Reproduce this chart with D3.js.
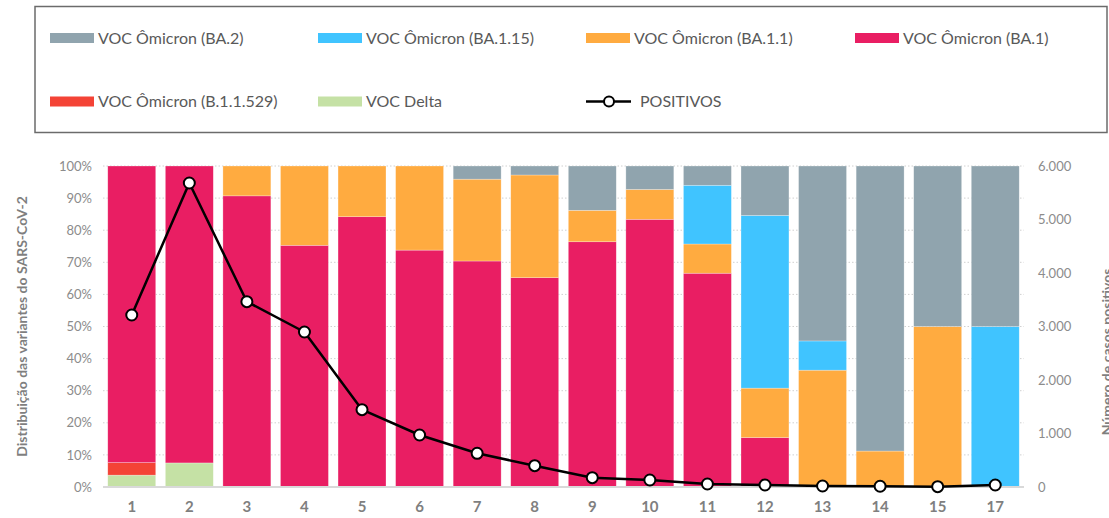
<!DOCTYPE html>
<html>
<head>
<meta charset="utf-8">
<script src="https://cdn.jsdelivr.net/npm/d3@7"></script>
<style>
  html, body { margin: 0; padding: 0; background: #fff; }
  svg { display: block; font-family: Lato, "Open Sans", sans-serif; }
</style>
</head>
<body>
<svg id="chart" width="1109" height="518"></svg>
<script>
// Weeks (16 is absent from the series)
const categories = ["1","2","3","4","5","6","7","8","9","10","11","12","13","14","15","17"];

// Share of each variant per week (%)
const delta   = [3.7, 7.5, 0, 0, 0, 0, 0, 0, 0, 0, 0, 0, 0, 0, 0, 0];
const b11529  = [3.9, 0, 0, 0, 0, 0, 0, 0, 0, 0, 0, 0, 0, 0, 0, 0];
const ba1     = [92.4, 92.5, 90.7, 75.3, 84.2, 73.8, 70.4, 65.2, 76.4, 83.4, 66.6, 15.4, 0, 0, 0, 0];
const ba11    = [0, 0, 9.3, 24.7, 15.8, 26.2, 25.5, 32.0, 9.8, 9.3, 9.1, 15.4, 36.4, 11.2, 50, 0];
const ba115   = [0, 0, 0, 0, 0, 0, 0, 0, 0, 0, 18.3, 53.8, 9.1, 0, 0, 50];
const ba2     = [0, 0, 0, 0, 0, 0, 4.1, 2.8, 13.8, 7.3, 6.0, 15.4, 54.5, 88.8, 50, 50];

// Positive cases per week
const positivos = [3215, 5682, 3464, 2897, 1445, 972, 630, 399, 174, 131, 56, 37, 19, 14, 6, 37];

const leftTicks  = [0, 10, 20, 30, 40, 50, 60, 70, 80, 90, 100];
const rightTicks = [0, 1000, 2000, 3000, 4000, 5000, 6000];

// Series in stacking order (bottom to top)
const series = [
  { key: "delta",  name: "VOC Delta",                 color: "#c5e1a5", values: delta },
  { key: "b11529", name: "VOC Ômicron (B.1.1.529)",   color: "#f44336", values: b11529 },
  { key: "ba1",    name: "VOC Ômicron (BA.1)",        color: "#e91e63", values: ba1 },
  { key: "ba11",   name: "VOC Ômicron (BA.1.1)",      color: "#ffab40", values: ba11 },
  { key: "ba115",  name: "VOC Ômicron (BA.1.15)",     color: "#40c4ff", values: ba115 },
  { key: "ba2",    name: "VOC Ômicron (BA.2)",        color: "#90a4ae", values: ba2 }
];

const rows = categories.map((c, i) => {
  const r = { cat: c };
  series.forEach(s => r[s.key] = s.values[i]);
  return r;
});

const svg = d3.select("#chart");
const plot = { left: 103, right: 1024, top: 166, bottom: 487 };

const x = d3.scaleBand().domain(categories).range([plot.left, plot.right]).paddingInner(0.167).paddingOuter(0.083);
const yL = d3.scaleLinear().domain([0, 100]).range([plot.bottom, plot.top]);
const yR = d3.scaleLinear().domain([0, 6000]).range([plot.bottom, plot.top]);

// Dotted gridlines
svg.append("g").selectAll("line").data(leftTicks.filter(t => t > 0)).join("line")
  .attr("x1", plot.left).attr("x2", plot.right)
  .attr("y1", d => yL(d)).attr("y2", d => yL(d))
  .attr("stroke", "#d0d0d0").attr("stroke-width", 1).attr("stroke-dasharray", "1.5,2");

// Stacked bars
const stacked = d3.stack().keys(series.map(s => s.key))(rows);
const gBars = svg.append("g");
stacked.forEach((layer, li) => {
  gBars.append("g").attr("fill", series[li].color)
    .selectAll("rect").data(layer).join("rect")
    .attr("x", d => x(d.data.cat))
    .attr("width", x.bandwidth())
    .attr("y", d => yL(d[1]))
    .attr("height", d => Math.max(0, yL(d[0]) - yL(d[1])))
    .attr("stroke", "rgba(255,255,255,0.45)").attr("stroke-width", 0.6);
});

// Baseline
svg.append("line").attr("x1", plot.left).attr("x2", plot.right)
  .attr("y1", plot.bottom).attr("y2", plot.bottom)
  .attr("stroke", "#d9d9d9").attr("stroke-width", 2);

// Left axis (percent)
const axL = svg.append("g").attr("transform", `translate(${plot.left - 11},0)`)
  .call(d3.axisLeft(yL).tickValues(leftTicks).tickFormat(d => d + "%").tickSize(0).tickPadding(0));
axL.select(".domain").remove();
axL.selectAll("text").attr("fill", "#8c8c8c").style("font-size", "13px").style("font-family", "Lato, sans-serif");

// Right axis (case counts)
const fmtPt = d3.formatLocale({ decimal: ",", thousands: ".", grouping: [3], currency: ["", ""] }).format(",d");
const axR = svg.append("g").attr("transform", `translate(${plot.right + 14},0)`)
  .call(d3.axisRight(yR).tickValues(rightTicks).tickFormat(fmtPt).tickSize(0).tickPadding(0));
axR.select(".domain").remove();
axR.selectAll("text").attr("fill", "#8c8c8c").style("font-size", "13px").style("font-family", "Lato, sans-serif");

// Bottom axis (weeks)
const axB = svg.append("g").attr("transform", `translate(0,${plot.bottom})`)
  .call(d3.axisBottom(x).tickSize(0).tickPadding(14));
axB.select(".domain").remove();
axB.selectAll("text").attr("fill", "#7f7f7f").style("font-size", "15px").style("font-weight", "bold").style("font-family", "Lato, sans-serif");

// Axis titles
svg.append("text")
  .attr("transform", `translate(27,${(plot.top + plot.bottom) / 2}) rotate(-90)`)
  .attr("text-anchor", "middle").attr("fill", "#7f7f7f")
  .style("font-size", "14px").style("font-weight", "bold")
  .text("Distribuição das variantes do SARS-CoV-2");
svg.append("text")
  .attr("transform", `translate(1112,352) rotate(-90)`)
  .attr("text-anchor", "middle").attr("fill", "#7f7f7f")
  .style("font-size", "14px").style("font-weight", "bold")
  .text("Número de casos positivos");

// Positive cases line
const cx = d => x(d.cat) + x.bandwidth() / 2;
const pts = categories.map((c, i) => ({ cat: c, v: positivos[i] }));
svg.append("path").datum(pts)
  .attr("fill", "none").attr("stroke", "#000").attr("stroke-width", 2.5).attr("stroke-linejoin", "round")
  .attr("d", d3.line().x(cx).y(d => yR(d.v)));
svg.append("g").selectAll("circle").data(pts).join("circle")
  .attr("cx", cx).attr("cy", d => yR(d.v)).attr("r", 5.5)
  .attr("fill", "#fff").attr("stroke", "#000").attr("stroke-width", 2);

// Legend box
svg.append("rect").attr("x", 35).attr("y", 6.5).attr("width", 1072).attr("height", 126)
  .attr("fill", "none").attr("stroke", "#6b6b6b").attr("stroke-width", 1.5);

const legendItems = [
  { s: series[5], col: 0, row: 0 },
  { s: series[4], col: 1, row: 0 },
  { s: series[3], col: 2, row: 0 },
  { s: series[2], col: 3, row: 0 },
  { s: series[1], col: 0, row: 1 },
  { s: series[0], col: 1, row: 1 }
];
const colX = [50, 318, 586, 855];
const rowY = [38, 101.5];
const leg = svg.append("g");
legendItems.forEach(it => {
  const gx = colX[it.col], gy = rowY[it.row];
  leg.append("rect").attr("x", gx).attr("y", gy - 5).attr("width", 44).attr("height", 10).attr("fill", it.s.color);
  leg.append("text").attr("x", gx + 48).attr("y", gy).attr("dy", "0.35em")
    .attr("fill", "#595959").style("font-size", "16px").text(it.s.name);
});
// Line legend entry
leg.append("line").attr("x1", 586).attr("x2", 631).attr("y1", rowY[1]).attr("y2", rowY[1])
  .attr("stroke", "#000").attr("stroke-width", 2.5);
leg.append("circle").attr("cx", 609).attr("cy", rowY[1]).attr("r", 5)
  .attr("fill", "#fff").attr("stroke", "#000").attr("stroke-width", 2);
leg.append("text").attr("x", 640).attr("y", rowY[1]).attr("dy", "0.35em")
  .attr("fill", "#595959").style("font-size", "16px").text("POSITIVOS");
</script>
</body>
</html>
